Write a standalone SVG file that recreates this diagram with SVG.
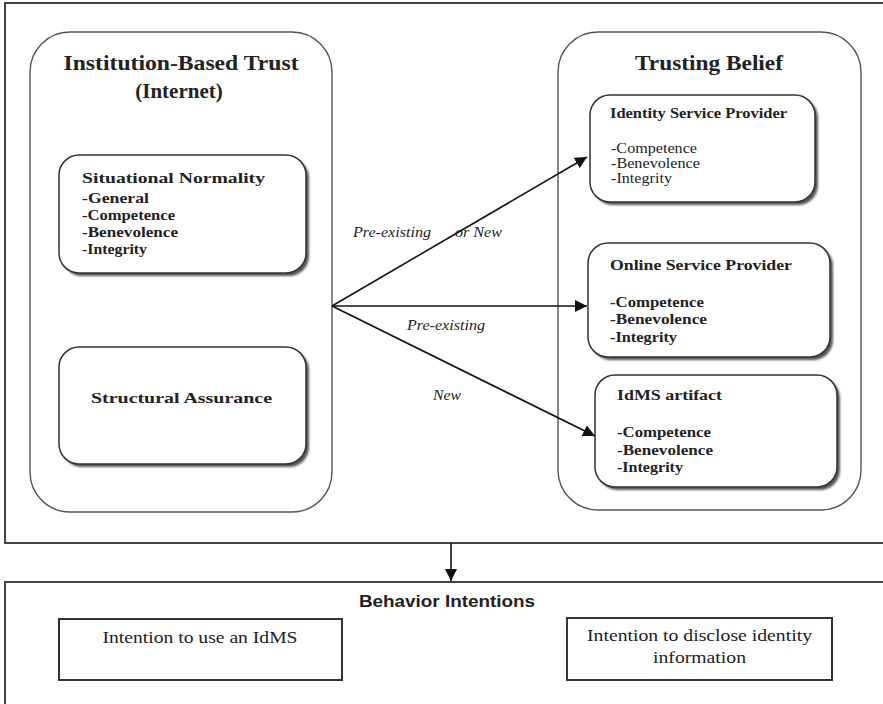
<svg xmlns="http://www.w3.org/2000/svg" width="883" height="704" viewBox="0 0 883 704">
  <defs>
    <style>
      .frame { fill: #fff; stroke: #444; stroke-width: 2; }
      .group { fill: #fff; stroke: #555; stroke-width: 1.4; }
      .card { fill: #fff; stroke: #333; stroke-width: 1.5; }
      .shadow { fill: #555; filter: url(#soft); }
      .plain { fill: #fff; stroke: #333; stroke-width: 2; }
      .serif { font-family: "Liberation Serif", "Times New Roman", serif; fill: #222; }
      .title { font-size: 21px; font-weight: bold; }
      .head { font-size: 15px; font-weight: bold; }
      .item { font-size: 15px; font-weight: bold; }
      .light { font-size: 14px; font-weight: normal; }
      .label { font-size: 15px; font-style: italic; }
      .sans { font-family: "Liberation Sans", Arial, sans-serif; fill: #222; font-size: 16px; font-weight: bold; }
      .box-text { font-size: 17px; }
      .wire { stroke: #111; stroke-width: 1.6; fill: none; marker-end: url(#head); }
    </style>
    <filter id="soft" x="-10%" y="-10%" width="120%" height="120%">
      <feGaussianBlur stdDeviation="1"/>
    </filter>
    <marker id="head" viewBox="0 0 10 10" refX="10" refY="5" markerWidth="7.5" markerHeight="7.5" markerUnits="strokeWidth" orient="auto">
      <path d="M0,0 L10,5 L0,10 z" fill="#111"/>
    </marker>
  </defs>

  <rect width="883" height="704" fill="#fff"/>

  <!-- upper frame holding both trust groups -->
  <rect id="upper-frame" class="frame" x="5" y="3" width="890" height="540"/>

  <!-- institution-based trust -->
  <g id="institution-based-trust">
    <rect class="group" x="30" y="32" width="302" height="480" rx="40" ry="40"/>
    <text class="serif title" x="181" y="70" text-anchor="middle" textLength="235" lengthAdjust="spacingAndGlyphs">Institution-Based Trust</text>
    <text class="serif title" x="179" y="98" text-anchor="middle">(Internet)</text>
  </g>

  <g id="situational-normality">
    <rect class="shadow" x="62" y="158" width="247" height="118" rx="20" ry="20"/>
    <rect class="card" x="59" y="155" width="247" height="118" rx="20" ry="20"/>
    <text class="serif head" x="82" y="183" textLength="183" lengthAdjust="spacingAndGlyphs">Situational Normality</text>
    <text class="serif item" x="82" y="203" font-weight="normal" font-size="16" textLength="67" lengthAdjust="spacingAndGlyphs">-General</text>
    <text class="serif item" x="82" y="220" textLength="93" lengthAdjust="spacingAndGlyphs">-Competence</text>
    <text class="serif item" x="82" y="237" textLength="96" lengthAdjust="spacingAndGlyphs">-Benevolence</text>
    <text class="serif item" x="82" y="254" textLength="65" lengthAdjust="spacingAndGlyphs">-Integrity</text>
  </g>

  <g id="structural-assurance">
    <rect class="shadow" x="62" y="350" width="247" height="117" rx="20" ry="20"/>
    <rect class="card" x="59" y="347" width="247" height="117" rx="20" ry="20"/>
    <text class="serif head" x="91" y="403" textLength="181" lengthAdjust="spacingAndGlyphs">Structural Assurance</text>
  </g>

  <!-- trusting belief -->
  <g id="trusting-belief">
    <rect class="group" x="558" y="32" width="303" height="478" rx="40" ry="40"/>
    <text class="serif title" x="709" y="70" text-anchor="middle" textLength="148" lengthAdjust="spacingAndGlyphs">Trusting Belief</text>
  </g>

  <g id="identity-service-provider">
    <rect class="shadow" x="593" y="98" width="225" height="107" rx="20" ry="20"/>
    <rect class="card" x="590" y="95" width="225" height="107" rx="20" ry="20"/>
    <text class="serif head" x="610" y="118" font-size="14" textLength="177" lengthAdjust="spacingAndGlyphs">Identity Service Provider</text>
    <text class="serif light" x="611" y="153" textLength="86" lengthAdjust="spacingAndGlyphs">-Competence</text>
    <text class="serif light" x="611" y="168" textLength="89" lengthAdjust="spacingAndGlyphs">-Benevolence</text>
    <text class="serif light" x="611" y="183" textLength="61" lengthAdjust="spacingAndGlyphs">-Integrity</text>
  </g>

  <g id="online-service-provider">
    <rect class="shadow" x="591" y="246" width="242" height="114" rx="20" ry="20"/>
    <rect class="card" x="588" y="243" width="242" height="114" rx="20" ry="20"/>
    <text class="serif head" x="610" y="270" textLength="182" lengthAdjust="spacingAndGlyphs">Online Service Provider</text>
    <text class="serif item" x="610" y="307" textLength="94" lengthAdjust="spacingAndGlyphs">-Competence</text>
    <text class="serif item" x="610" y="324" textLength="97" lengthAdjust="spacingAndGlyphs">-Benevolence</text>
    <text class="serif item" x="610" y="342" textLength="67" lengthAdjust="spacingAndGlyphs">-Integrity</text>
  </g>

  <g id="idms-artifact">
    <rect class="shadow" x="598" y="378" width="242" height="112" rx="20" ry="20"/>
    <rect class="card" x="595" y="375" width="242" height="112" rx="20" ry="20"/>
    <text class="serif head" x="617" y="400" textLength="105" lengthAdjust="spacingAndGlyphs">IdMS artifact</text>
    <text class="serif item" x="617" y="437" textLength="94" lengthAdjust="spacingAndGlyphs">-Competence</text>
    <text class="serif item" x="617" y="455" textLength="96" lengthAdjust="spacingAndGlyphs">-Benevolence</text>
    <text class="serif item" x="617" y="472" textLength="66" lengthAdjust="spacingAndGlyphs">-Integrity</text>
  </g>

  <!-- lower frame: behaviour intentions -->
  <g id="behavior-intentions">
    <rect class="frame" x="5" y="582" width="890" height="140"/>
    <text class="sans" x="447" y="607" text-anchor="middle" textLength="176" lengthAdjust="spacingAndGlyphs">Behavior Intentions</text>
  </g>

  <g id="intention-use">
    <rect class="plain" x="59" y="619" width="283" height="61"/>
    <text class="serif box-text" x="200" y="643" text-anchor="middle" textLength="195" lengthAdjust="spacingAndGlyphs">Intention to use an IdMS</text>
  </g>

  <g id="intention-disclose">
    <rect class="plain" x="567" y="618" width="265" height="62"/>
    <text class="serif box-text" x="699.5" y="641" text-anchor="middle" textLength="225" lengthAdjust="spacingAndGlyphs">Intention to disclose identity</text>
    <text class="serif box-text" x="699.5" y="663" text-anchor="middle" textLength="93" lengthAdjust="spacingAndGlyphs">information</text>
  </g>

  <!-- connectors -->
  <g id="connectors">
    <line class="wire" x1="332" y1="306" x2="587" y2="157"/>
    <line class="wire" x1="332" y1="306" x2="587" y2="306"/>
    <line class="wire" x1="332" y1="306" x2="595" y2="436"/>
    <line class="wire" x1="451" y1="543" x2="451" y2="581"/>
    <text class="serif label" x="353" y="237" textLength="78" lengthAdjust="spacingAndGlyphs">Pre-existing</text>
    <text class="serif label" x="455" y="237" textLength="47" lengthAdjust="spacingAndGlyphs">or New</text>
    <text class="serif label" x="407" y="330" textLength="78" lengthAdjust="spacingAndGlyphs">Pre-existing</text>
    <text class="serif label" x="433" y="400" textLength="28" lengthAdjust="spacingAndGlyphs">New</text>
  </g>
</svg>
